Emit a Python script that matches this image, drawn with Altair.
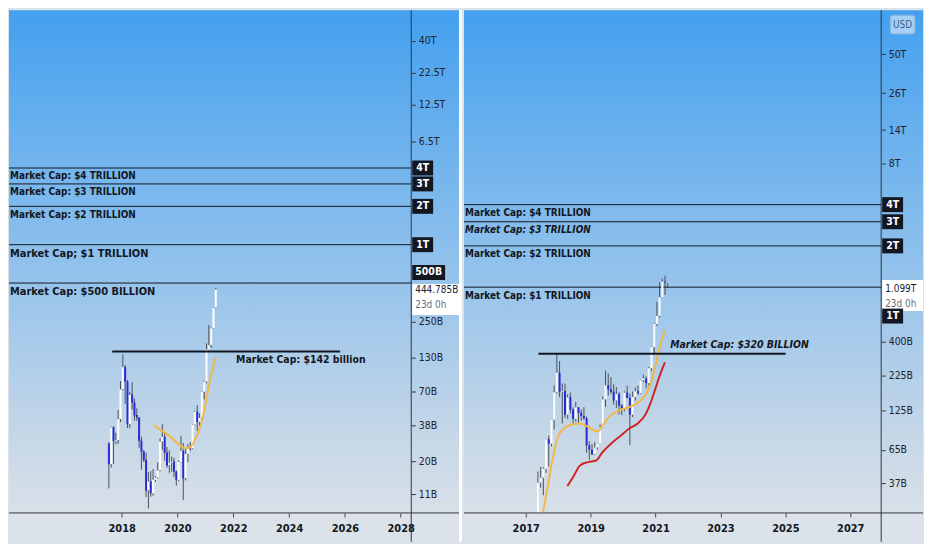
import altair as alt
import pandas as pd

# ---------------- data ----------------
# Left panel: market cap in billions USD, monthly candles from Jul 2017
eth_start = (2017, 7)
eth_open = [27.5, 19.0, 36.8, 28.8, 29.3, 42.9, 73.7, 109.6, 84.2, 39.1, 66.6, 57.8, 46.0, 43.9, 28.9, 23.8,
            20.5, 11.8, 13.9, 11.2, 14.3, 14.9, 17.0, 28.5, 31.0, 23.4, 18.6, 19.5, 19.9, 16.6, 14.2, 19.7,
            24.0, 14.7, 22.8, 25.6, 25.2, 38.8, 48.9, 40.7, 43.8, 70.2, 84.2, 150.7, 163.2, 221.4, 320.8]
eth_high = [28.2, 37.3, 37.5, 33.4, 50.4, 84.9, 138.4, 113.7, 86.7, 69.8, 83.1, 62.0, 52.0, 44.2, 31.1, 24.4,
            23.3, 16.4, 16.7, 17.3, 15.3, 19.5, 30.2, 38.9, 33.7, 25.8, 24.2, 21.7, 21.2, 16.9, 20.2, 31.6,
            27.8, 25.0, 27.1, 28.3, 38.8, 49.8, 55.1, 47.5, 70.6, 85.5, 168.0, 233.8, 223.5, 322.8, 457.8]
eth_low = [12.2, 17.8, 19.0, 27.2, 27.4, 40.5, 72.2, 56.4, 36.4, 36.1, 50.7, 41.5, 41.4, 25.4, 17.1, 19.7,
           10.4, 8.5, 10.5, 10.7, 13.7, 14.6, 16.6, 24.5, 20.1, 17.7, 16.2, 16.5, 15.0, 12.8, 13.9, 19.5,
           9.9, 14.1, 19.6, 24.0, 24.8, 38.1, 34.7, 37.9, 42.6, 61.0, 81.7, 149.0, 155.0, 220.2, 315.6]
eth_close = [18.9, 36.7, 28.7, 29.1, 42.7, 73.0, 109.0, 83.8, 38.9, 66.2, 57.5, 45.5, 43.7, 28.7, 23.7, 20.3,
             11.7, 13.8, 11.2, 14.3, 14.8, 16.9, 28.4, 30.9, 23.3, 18.5, 19.4, 19.8, 16.5, 14.2, 19.7, 23.9,
             14.6, 22.7, 25.6, 25.1, 38.6, 48.7, 40.5, 43.6, 69.9, 84.0, 150.3, 162.7, 220.6, 320.0, 444.785]
eth_ma_t = [2019.16, 2019.45, 2019.79, 2020.12, 2020.29, 2020.46, 2020.63, 2020.80, 2020.97, 2021.14, 2021.37]
eth_ma_v = [38.3, 34.5, 30.4, 26.3, 25.2, 25.8, 29.5, 36.2, 51.3, 81.4, 130]

# Right panel: market cap in billions USD, monthly candles from Apr 2017
btc_start = (2017, 4)
btc_open = [17.4, 22.0, 37.5, 40.8, 47.4, 77.9, 72.1, 107.9, 171.3, 237.7, 172.2, 174.6, 117.5, 157.3, 128.1,
            109.6, 133.0, 121.4, 114.8, 110.6, 70.0, 65.3, 60.6, 67.6, 72.2, 94.6, 152.0, 192.6, 180.0, 172.6,
            149.1, 166.0, 136.9, 130.4, 170.2, 155.9, 117.6, 158.5, 174.2, 168.5, 209.6, 215.5, 199.6, 256.0,
            366.0, 539.2, 617.4, 844.2, 1099.0, 1080.5]
btc_high = [22.0, 45.1, 48.8, 48.5, 78.4, 82.5, 107.5, 191.8, 331.5, 288.8, 198.8, 197.7, 165.5, 170.0, 132.5,
            145.4, 133.5, 128.0, 133.0, 113.8, 75.1, 71.8, 73.8, 72.2, 99.4, 159.3, 246.2, 233.7, 220.2, 195.3,
            186.6, 171.6, 140.2, 173.8, 191.1, 167.7, 173.2, 185.0, 191.3, 211.1, 230.3, 223.3, 261.1, 368.4,
            544.4, 780.3, 1087.1, 1153.0, 1213.0, 1113.2]
btc_low = [17.3, 21.8, 34.4, 30.3, 44.1, 49.2, 69.0, 91.7, 167.4, 157.8, 101.1, 111.5, 109.1, 120.0, 98.8,
           104.1, 101.1, 105.7, 107.4, 61.8, 54.9, 59.4, 59.6, 65.5, 71.9, 94.2, 133.8, 161.4, 166.5, 138.9,
           131.3, 118.2, 116.3, 124.4, 154.2, 70.3, 112.8, 148.8, 163.5, 165.6, 203.2, 182.8, 192.1, 245.2,
           327.9, 523.2, 601.7, 839.0, 878.4, 991.6]
btc_close = [21.9, 37.3, 40.6, 47.3, 77.6, 71.9, 107.5, 170.6, 237.0, 171.6, 174.1, 117.1, 156.7, 127.5, 109.3,
             132.6, 120.9, 114.5, 110.3, 69.8, 65.2, 60.4, 67.5, 72.0, 94.3, 151.5, 191.9, 179.4, 172.0, 148.6,
             165.4, 136.6, 130.1, 169.6, 155.4, 117.2, 158.0, 173.8, 168.3, 209.3, 215.2, 199.4, 255.6, 365.4,
             538.6, 616.4, 842.8, 1097.2, 1079.3, 1099.0]
btc_ma1_t = [2017.53, 2017.68, 2017.78, 2017.88, 2017.98, 2018.18, 2018.42, 2018.67, 2018.87, 2019.07, 2019.22,
             2019.37, 2019.56, 2019.86, 2020.15, 2020.45, 2020.70, 2020.85, 2020.95, 2021.05, 2021.15, 2021.29]
btc_ma1_v = [22.9, 35.3, 48.7, 63.8, 79.3, 93.3, 99.5, 101.2, 97.3, 90.8, 88.3, 98.4, 112.5, 125.6, 132.4,
             143.5, 164.4, 198.6, 240, 306, 380, 484]
btc_ma2_t = [2018.28, 2018.47, 2018.67, 2018.92, 2019.17, 2019.36, 2019.66, 2019.96, 2020.20, 2020.45, 2020.70,
             2020.85, 2021.0, 2021.15, 2021.29]
btc_ma2_v = [35.3, 41.5, 50.0, 52.9, 54.3, 62.2, 73.2, 83.7, 93.3, 101.2, 118.9, 143.5, 183.2, 233.5, 282.4]

# level lines and labels
eth_levels = [4000, 3000, 2000, 1000, 500]
eth_level_text = ["Market Cap: $4 TRILLION", "Market Cap: $3 TRILLION", "Market Cap: $2 TRILLION",
                  "Market Cap; $1 TRILLION", "Market Cap: $500 BILLION"]
eth_level_size = [10, 10, 10, 11, 11]
eth_level_italic = [False, False, False, False, False]
btc_levels = [4000, 3000, 2000, 1000]
btc_level_text = ["Market Cap: $4 TRILLION", "Market Cap: $3 TRILLION", "Market Cap: $2 TRILLION",
                  "Market Cap: $1 TRILLION"]
btc_level_size = [10, 10, 10, 10]
btc_level_italic = [False, True, False, False]

eth_ath = {"t0": 2017.66, "t1": 2025.83, "v": 145, "label": "Market Cap: $142 billion", "lt": 2022.1, "italic": False, "dy": 9}
btc_ath = {"t0": 2017.39, "t1": 2025.01, "v": 327, "label": "Market Cap: $320 BILLION", "lt": 2021.45, "italic": True, "dy": -9}

eth_badge_v = [4000, 3000, 2000, 1000, 605]
eth_badge_text = ["4T", "3T", "2T", "1T", "500B"]
btc_badge_v = [4000, 3000, 2000, 615]
btc_badge_text = ["4T", "3T", "2T", "1T"]

eth_price = (444.785, "444.785B", "23d 0h")
btc_price = (1099.0, "1.099T", "23d 0h")

eth_yticks = [11, 20, 38, 70, 130, 250, 6500, 12500, 22500, 40000]
btc_yticks = [37, 65, 125, 225, 400, 8000, 14000, 26000, 50000]
eth_xticks = [2018, 2020, 2022, 2024, 2026, 2028]
btc_xticks = [2017, 2019, 2021, 2023, 2025, 2027]
eth_xdom = [2014.14, 2028.2]
eth_ydom = [7.83, 69400]
btc_xdom = [2015.25, 2027.8]
btc_ydom = [22.5, 105000]

# ---------------- styling ----------------
W1, W2, H = 404, 419, 505
AX1, AX2 = 48, 42
FONT = "DejaVu Sans Condensed, sans-serif"
INK = "#131722"
UP, DOWN, WICK = "#ffffff", "#2b2bd6", "#4b525c"
ORANGE, RED = "#f4b63f", "#d01c1c"
BOTTOM_BG = "#dbe2e9"
grad = alt.Gradient(gradient="linear", x1=0, x2=0, y1=0, y2=1, stops=[
    alt.GradientStop(offset=0, color="#43a0ef"),
    alt.GradientStop(offset=0.5, color="#90c1ec"),
    alt.GradientStop(offset=0.85, color="#c6d7e7"),
    alt.GradientStop(offset=1, color="#d8e0e8"),
])


def month_pos(start, n):
    y0, m0 = start
    return [y0 + (m0 - 1 + i + 0.5) / 12 for i in range(n)]


def candles(start, o, h, l, c):
    return pd.DataFrame({"t": month_pos(start, len(o)), "open": o, "high": h, "low": l, "close": c,
                         "dir": ["up" if cc >= oo else "down" for oo, cc in zip(o, c)]})


def panel(W, AXW, xdom, ydom, xticks, yticks, cdf, mas, levels, ltext, lsize, lital, ath,
          bvals, btexts, price, sep, usd):
    xs = alt.Scale(domain=xdom, nice=False, zero=False)
    ys = alt.Scale(type="log", domain=ydom, nice=False)
    labexpr = "datum.value >= 1000 ? format(datum.value/1000, '~g') + 'T' : format(datum.value, '~g') + 'B'"
    xaxis = alt.Axis(values=xticks, format="d", title=None, grid=False, domain=False,
                     tickSize=4, tickColor="#444", labelFont=FONT, labelFontWeight="bold",
                     labelFontSize=11, labelColor=INK, labelPadding=6, labelFlush=False,
                     labelOverlap=False, zindex=1)
    yaxis = alt.Axis(orient="right", values=yticks, labelExpr=labexpr, title=None,
                     grid=False, domain=False, tickSize=4, tickColor="#333",
                     labelFont=FONT, labelFontSize=10.5, labelColor="#1e222d",
                     labelPadding=3, labelOverlap=False, zindex=1)

    def X(f):
        return alt.X(f, scale=xs, axis=xaxis)

    def Y(f):
        return alt.Y(f, scale=ys, axis=yaxis)

    one = pd.DataFrame({"a": [0]})
    layers = []
    layers.append(alt.Chart(one).mark_rect(fill=grad).encode(
        x=alt.value(0), x2=alt.value(W + AXW), y=alt.value(0), y2=alt.value(H)))
    if sep:
        layers.append(alt.Chart(one).mark_rect(fill="#ffffff").encode(
            x=alt.value(W + AXW), x2=alt.value(W + AXW + 3), y=alt.value(0), y2=alt.value(H + 29)))
    # candle wicks
    layers.append(alt.Chart(cdf).mark_rule(color=WICK, strokeWidth=1, clip=True).encode(
        x=X("t:Q"), y=Y("low:Q"), y2="high:Q"))
    # level lines
    ldf = pd.DataFrame({"v": levels})
    layers.append(alt.Chart(ldf).mark_rule(color=INK, strokeWidth=1).encode(
        y=Y("v:Q"), x=alt.value(0), x2=alt.value(W)))
    for v, txt, fs, it in zip(levels, ltext, lsize, lital):
        layers.append(alt.Chart(pd.DataFrame({"v": [v], "s": [txt]})).mark_text(
            align="left", baseline="middle", font=FONT, fontWeight="bold", fontSize=fs,
            fontStyle="italic" if it else "normal", dy=fs * 0.85, color=INK).encode(
            x=alt.value(1), y=Y("v:Q"), text="s:N"))
    # candle bodies
    layers.append(alt.Chart(cdf).mark_bar(size=2, clip=True).encode(
        x=X("t:Q"), y=Y("open:Q"), y2="close:Q",
        color=alt.Color("dir:N", scale=alt.Scale(domain=["up", "down"], range=[UP, DOWN]), legend=None)))
    # moving averages
    for t, v, col in mas:
        layers.append(alt.Chart(pd.DataFrame({"t": t, "v": v})).mark_line(
            color=col, strokeWidth=2, interpolate="monotone", clip=True, opacity=0.95).encode(
            x=X("t:Q"), y=Y("v:Q")))
    # previous-top line
    adf = pd.DataFrame({"t0": [ath["t0"]], "t1": [ath["t1"]], "v": [ath["v"]], "lt": [ath["lt"]], "s": [ath["label"]]})
    layers.append(alt.Chart(adf).mark_rule(color=INK, strokeWidth=2).encode(
        x=X("t0:Q"), x2="t1:Q", y=Y("v:Q")))
    layers.append(alt.Chart(adf).mark_text(
        align="left", baseline="middle", font=FONT, fontWeight="bold", fontSize=10.5,
        fontStyle="italic" if ath["italic"] else "normal", dy=ath["dy"], color=INK).encode(
        x=X("lt:Q"), y=Y("v:Q"), text="s:N"))
    # axis lines
    layers.append(alt.Chart(one).mark_rule(color="#2f3440", strokeWidth=1).encode(
        x=alt.value(W), y=alt.value(0), y2=alt.value(H + 29)))
    layers.append(alt.Chart(one).mark_rule(color="#2f3440", strokeWidth=1).encode(
        x=alt.value(0), x2=alt.value(W + AXW), y=alt.value(H)))
    # price label
    pdf = pd.DataFrame({"v": [price[0]], "a": [price[1]], "b": [price[2]]})
    pw = AXW - 1
    layers.append(alt.Chart(pdf).mark_tick(orient="horizontal", color="#ffffff", opacity=1,
                                           size=pw, thickness=31, yOffset=price[3]).encode(
        x=alt.value(W + 1 + pw / 2), y=Y("v:Q")))
    layers.append(alt.Chart(pdf).mark_text(align="left", baseline="middle", font=FONT, fontSize=10,
                                           color="#1e222d", dy=price[4]).encode(
        x=alt.value(W + 4), y=Y("v:Q"), text="a:N"))
    layers.append(alt.Chart(pdf).mark_text(align="left", baseline="middle", font=FONT, fontSize=10,
                                           color="#6a6d78", dy=price[4] + 15).encode(
        x=alt.value(W + 4), y=Y("v:Q"), text="b:N"))
    # badges
    for v, txt in zip(bvals, btexts):
        bw = 9 + 6 * len(txt)
        bdf = pd.DataFrame({"v": [v], "s": [txt]})
        layers.append(alt.Chart(bdf).mark_tick(orient="horizontal", color=INK, opacity=1,
                                               size=bw, thickness=15).encode(
            x=alt.value(W + 1 + bw / 2), y=Y("v:Q")))
        layers.append(alt.Chart(bdf).mark_text(align="center", baseline="middle", font=FONT,
                                               fontWeight="bold", fontSize=10.5, color="#ffffff").encode(
            x=alt.value(W + 1 + bw / 2), y=Y("v:Q"), text="s:N"))
    if usd:
        layers.append(alt.Chart(one).mark_rect(fill="#cfe2f6", fillOpacity=0.7, stroke="#86acd6",
                                               cornerRadius=3).encode(
            x=alt.value(W + 9), x2=alt.value(W + 34), y=alt.value(5), y2=alt.value(24)))
        layers.append(alt.Chart(pd.DataFrame({"s": ["USD"]})).mark_text(
            align="center", baseline="middle", font=FONT, fontSize=10, color="#3d5f8c").encode(
            x=alt.value(W + 21.5), y=alt.value(14.5), text="s:N"))
    return alt.layer(*layers).properties(width=W, height=H)


left = panel(W1, AX1, eth_xdom, eth_ydom, eth_xticks, eth_yticks,
             candles(eth_start, eth_open, eth_high, eth_low, eth_close),
             [(eth_ma_t, eth_ma_v, ORANGE)],
             eth_levels, eth_level_text, eth_level_size, eth_level_italic, eth_ath,
             eth_badge_v, eth_badge_text, (eth_price[0], eth_price[1], eth_price[2], 10, 1), True, False)
right = panel(W2, AX2, btc_xdom, btc_ydom, btc_xticks, btc_yticks,
              candles(btc_start, btc_open, btc_high, btc_low, btc_close),
              [(btc_ma1_t, btc_ma1_v, ORANGE), (btc_ma2_t, btc_ma2_v, RED)],
              btc_levels, btc_level_text, btc_level_size, btc_level_italic, btc_ath,
              btc_badge_v, btc_badge_text, (btc_price[0], btc_price[1], btc_price[2], 14, 8), False, True)

chart = alt.hconcat(left, right, spacing=0, padding=0).configure_view(stroke=None).configure(
    background=BOTTOM_BG)

chart.save("out.html", embed_options={"renderer": "svg", "actions": False})
